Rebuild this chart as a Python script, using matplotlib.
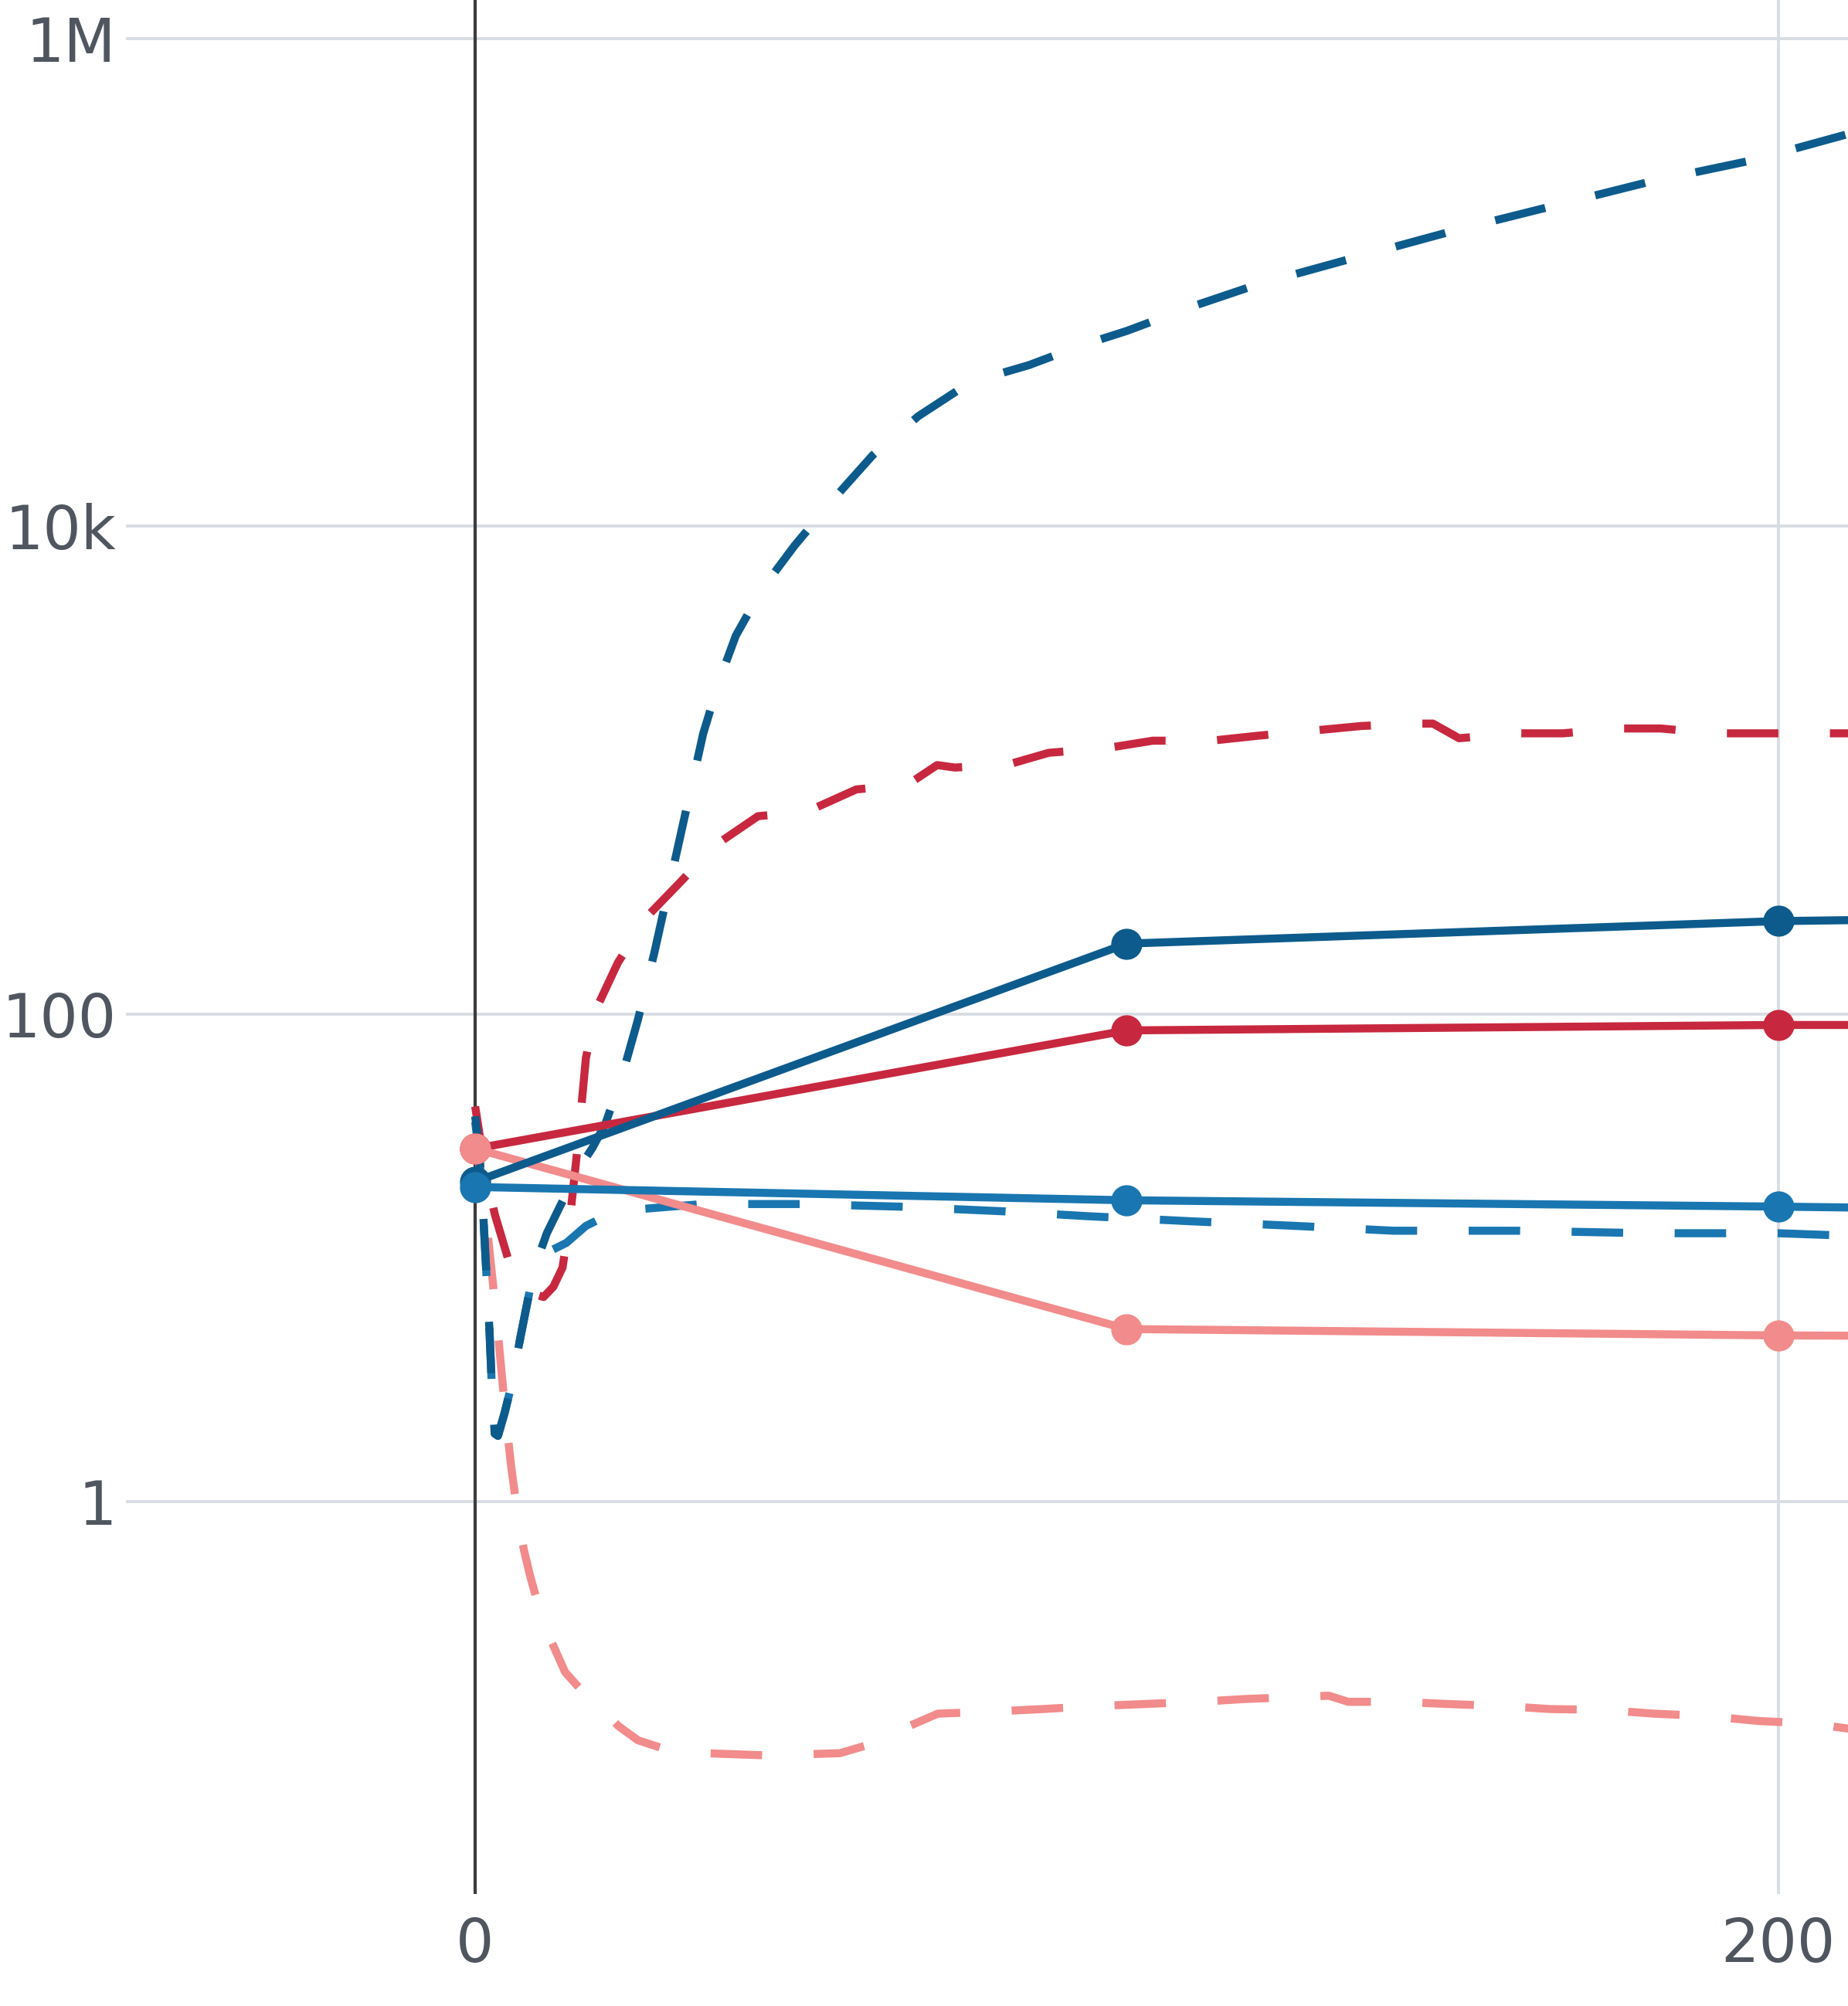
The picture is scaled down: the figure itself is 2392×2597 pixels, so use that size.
import matplotlib
matplotlib.use("Agg")
import matplotlib.pyplot as plt
from matplotlib.ticker import FixedLocator, FixedFormatter, NullLocator

plt.rcParams['font.family'] = ['DejaVu Sans']

# ---------------- data ----------------
obs_x = [0, 100, 200, 300]
dark_blue_obs = [20.5, 194, 240, 260]
red_obs = [28, 85.5, 90, 90]
light_blue_obs = [19.5, 17.2, 16.2, 15]
pink_obs = [28, 5.1, 4.8, 4.7]

dark_blue_fit_x = [0, 0.6, 1.2, 1.7, 2.2, 2.6, 3.0, 3.5, 4.5, 5.5, 7, 9, 11, 13, 16, 18, 20,
                   22.5, 25, 27.5, 30, 32.5, 35, 37.5, 40, 44, 49, 55, 61, 68, 76, 85, 93,
                   100, 110, 120, 135, 150, 165, 180, 196, 211]
dark_blue_fit = [38, 28.2, 15.8, 8.9, 5.0, 2.8, 1.9, 1.86, 2.3, 2.95, 4.8, 8.9, 12.6, 16.2,
                 23.4, 28.2, 35.5, 55, 95, 178, 355, 708, 1410, 2340, 3550, 5500, 8300,
                 12900, 19500, 28200, 38900, 45700, 55000, 63100, 79400, 97700, 126000,
                 162000, 204000, 257000, 316000, 407000]

light_blue_fit_x = [0, 0.6, 1.2, 1.7, 2.2, 2.6, 3.0, 3.5, 4.5, 5.5, 7, 9, 11, 14, 17, 20, 25,
                    35, 50, 65, 81, 94, 110, 126, 141, 160, 180, 200, 211]
light_blue_fit = [36, 27, 15.5, 8.8, 5.0, 2.8, 1.9, 1.86, 2.3, 2.95, 4.8, 8.9, 10.5, 11.5,
                  13.5, 14.8, 15.8, 16.6, 16.6, 16.2, 15.5, 14.8, 14.1, 13.5, 12.9, 12.9,
                  12.6, 12.6, 12.3]

red_fit_x = [0, 1, 2, 3, 5, 7, 9, 10.5, 12, 13.4, 14.5, 15.5, 16.3, 17, 18.6, 21.9, 26.4,
             31.5, 36.8, 43.4, 51, 58.5, 66.4, 70.9, 73.6, 81.5, 88, 97, 104, 113, 120,
             128, 136, 144, 147, 151, 160, 167, 175, 182, 190, 198, 211]
red_fit = [41.7, 28.2, 20, 15.1, 10, 7.9, 7.1, 6.9, 7.6, 9.1, 14.1, 25, 41.7, 66, 105, 162,
           251, 347, 490, 646, 676, 832, 871, 1047, 1023, 1047, 1175, 1230, 1318, 1318,
           1380, 1445, 1514, 1549, 1549, 1349, 1413, 1413, 1479, 1479, 1413, 1413, 1413]

pink_fit_x = [0, 1, 2, 3.3, 4, 4.8, 5.5, 6.5, 7.5, 8.4, 10.4, 13.8, 16.5, 19, 22, 25, 30,
              35, 45, 56, 60, 64, 71, 80, 87, 95, 103, 111, 118, 126, 131, 134, 142, 149,
              158, 165, 173, 181, 189, 197, 205, 211]
pink_fit = [31.6, 20.9, 12, 5.6, 3.5, 2.1, 1.41, 0.89, 0.63, 0.50, 0.32, 0.20, 0.166, 0.145,
            0.12, 0.105, 0.095, 0.093, 0.091, 0.093, 0.10, 0.112, 0.135, 0.138, 0.141,
            0.145, 0.148, 0.151, 0.155, 0.158, 0.16, 0.151, 0.151, 0.148, 0.145, 0.141,
            0.14, 0.135, 0.132, 0.126, 0.123, 0.117]

y_tick_values = [1, 100, 1e4, 1e6]
y_tick_labels = ["1", "100", "10k", "1M"]
x_tick_values = [0, 200]
x_tick_labels = ["0", "200"]

# ---------------- style ----------------
DARK_BLUE = '#0d5b8c'
LIGHT_BLUE = '#1976b0'
RED = '#c8283f'
PINK = '#f28b8b'
GRID = '#d8dde4'
TEXT = '#50565f'

W, H = 2392, 2597
fig = plt.figure(figsize=(W / 100, H / 100), dpi=100)
left = 163 / W
bottom = 1 - 2452 / H
ax = fig.add_axes([left, bottom, 1 - left, 1 - bottom])

ax.set_yscale('log')
ax.set_xlim(-53.6, 210.7)
ax.set_ylim(10 ** -1.609, 10 ** 6.157)

for s in ax.spines.values():
    s.set_visible(False)

ax.yaxis.set_major_locator(FixedLocator(y_tick_values))
ax.yaxis.set_major_formatter(FixedFormatter(y_tick_labels))
ax.yaxis.set_minor_locator(NullLocator())
ax.xaxis.set_major_locator(FixedLocator(x_tick_values))
ax.xaxis.set_major_formatter(FixedFormatter(x_tick_labels))
ax.xaxis.set_minor_locator(NullLocator())

ax.set_axisbelow(True)
ax.grid(True, color=GRID, linewidth=2.8)
ax.tick_params(axis='both', length=0, labelsize=56, colors=TEXT)
ax.tick_params(axis='y', pad=9)
ax.tick_params(axis='x', pad=20)

ax.axvline(0, color='#3c3c3c', linewidth=3.0, zorder=1.5)

lw = 7.5
dash = (0, (6.4, 6.4))
ax.plot(pink_fit_x, pink_fit, color=PINK, lw=lw, linestyle=dash, zorder=2)
ax.plot(red_fit_x, red_fit, color=RED, lw=lw, linestyle=dash, zorder=2)
ax.plot(light_blue_fit_x, light_blue_fit, color=LIGHT_BLUE, lw=lw, linestyle=dash, zorder=2)
ax.plot(dark_blue_fit_x, dark_blue_fit, color=DARK_BLUE, lw=lw, linestyle=dash, zorder=2)

ms = 28
ax.plot(obs_x, red_obs, color=RED, lw=lw, marker='o', ms=ms, zorder=3)
ax.plot(obs_x, pink_obs, color=PINK, lw=lw, marker='o', ms=ms, zorder=3)
ax.plot(obs_x, dark_blue_obs, color=DARK_BLUE, lw=lw, marker='o', ms=ms, zorder=3)
ax.plot(obs_x, light_blue_obs, color=LIGHT_BLUE, lw=lw, marker='o', ms=ms, zorder=3)

fig.savefig('out.png', dpi=100, facecolor='white')
